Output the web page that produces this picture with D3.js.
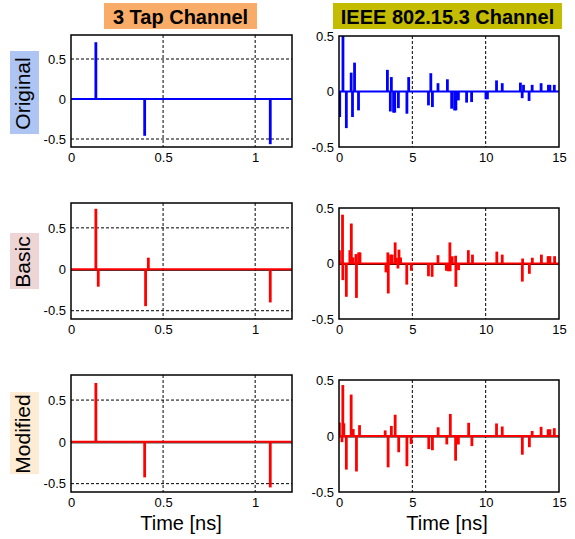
<!DOCTYPE html>
<html><head><meta charset="utf-8">
<script src="https://cdn.jsdelivr.net/npm/d3@7"></script>
<style>body{margin:0;background:#fff}svg{display:block}text{font-family:"Liberation Sans",Arial,sans-serif}</style>
</head><body><svg id="c" width="575" height="539"></svg>
<script>
// ---- data ----
const columnTitles = ["3 Tap Channel", "IEEE 802.15.3 Channel"];
const rowLabels = ["Original", "Basic", "Modified"];
const xLabel = "Time [ns]";
const tapXTicks = [0, 0.5, 1];
const ieeeXTicks = [0, 5, 10, 15];
const tapYTicks = [0.5, 0, -0.5];
const ieeeYTicks = [0.5, 0, -0.5];

const tapOrigT = [0.135, 0.400, 1.082];
const tapOrigV = [0.71, -0.46, -0.565];
const tapBasicT = [0.135, 0.148, 0.405, 0.420, 1.082];
const tapBasicV = [0.73, -0.21, -0.445, 0.14, -0.40];
const tapModT = [0.135, 0.400, 1.082];
const tapModV = [0.705, -0.425, -0.545];

const ieeeOrigT = [0.05,0.27,0.50,0.83,0.92,1.06,1.33,3.30,3.50,3.57,3.72,3.80,4.05,4.63,4.75,6.10,6.26,6.37,6.75,7.39,7.68,7.88,7.97,8.14,8.70,9.04,10.02,10.12,10.74,11.13,12.37,12.49,12.58,12.96,13.17,13.78,14.28,14.38,14.68];
const ieeeOrigV = [-0.23,0.50,-0.33,0.17,-0.23,0.26,-0.17,0.195,-0.18,0.13,-0.19,-0.19,-0.15,-0.20,0.13,-0.125,0.165,-0.14,0.075,0.11,-0.155,-0.17,-0.17,-0.08,-0.10,-0.095,-0.07,-0.07,0.10,0.075,0.08,-0.06,0.06,-0.085,0.06,0.075,0.06,0.06,0.06];

const ieeeBasicT = [0.03,0.24,0.26,0.50,0.74,0.84,0.96,1.16,1.19,1.34,1.43,3.20,3.33,3.36,3.52,3.62,3.83,3.92,4.02,4.09,4.20,4.62,4.93,6.10,6.35,6.75,7.32,7.44,7.56,7.58,7.72,7.95,7.97,8.15,8.82,9.10,10.76,11.13,12.50,12.52,12.98,13.18,13.80,14.26,14.38,14.70];
const ieeeBasicV = [0.12,0.44,-0.15,-0.30,0.12,0.36,0.055,0.085,-0.31,0.10,0.10,-0.08,0.10,-0.27,0.08,0.08,0.19,0.05,-0.045,0.125,0.054,-0.19,-0.065,-0.115,-0.12,0.075,-0.065,-0.07,0.19,-0.07,0.065,0.07,-0.21,-0.06,0.12,0.08,0.107,0.08,-0.163,0.045,-0.093,0.052,0.08,0.066,0.066,0.066];

const ieeeModT = [0.03,0.20,0.26,0.33,0.50,0.83,0.97,1.19,1.40,3.15,3.35,3.57,3.83,4.07,4.63,4.92,6.12,6.37,6.76,7.35,7.59,7.95,8.14,8.84,9.06,10.74,11.13,12.50,12.98,13.17,13.78,14.26,14.38,14.68];
const ieeeModV = [0.12,-0.055,0.455,0.113,-0.30,0.37,0.062,-0.317,0.097,0.05,-0.28,0.09,0.19,-0.145,-0.27,-0.072,-0.117,-0.127,0.078,-0.075,0.197,-0.22,-0.076,0.118,-0.09,0.112,0.085,-0.167,-0.10,0.045,0.082,0.06,0.06,0.07];

// ---- layout ----
const svg = d3.select("#c");
const leftX = [71, 292], rightX = [339, 559];
const leftRows = [[35,147],[203,319],[375,492]];
const rightRows = [[36,147],[208,319],[380,492]];
const rowColors = ["#0000ff", "#ff0000", "#ff0000"];
const labelBg = ["#aec4f2", "#eed5d5", "#fdebd4"];
const labelBox = [[51,134],[233,289],[392,474]];

const panels = [
  {col:0,row:0,t:tapOrigT,v:tapOrigV},
  {col:1,row:0,t:ieeeOrigT,v:ieeeOrigV},
  {col:0,row:1,t:tapBasicT,v:tapBasicV},
  {col:1,row:1,t:ieeeBasicT,v:ieeeBasicV},
  {col:0,row:2,t:tapModT,v:tapModV},
  {col:1,row:2,t:ieeeModT,v:ieeeModV}
];

const fmt = d => (d === 0 ? "0" : String(d));

panels.forEach((p, i) => {
  const xr = p.col === 0 ? leftX : rightX;
  const yr = p.col === 0 ? leftRows[p.row] : rightRows[p.row];
  const x = d3.scaleLinear().domain(p.col === 0 ? [0, 1.2] : [0, 15]).range(xr);
  const y = d3.scaleLinear().domain(p.col === 0 ? [-0.6, 0.8] : [-0.5, 0.5]).range([yr[1], yr[0]]);
  const g = svg.append("g");
  const cid = "clip" + i;
  g.append("clipPath").attr("id", cid).append("rect")
    .attr("x", xr[0]).attr("y", yr[0]).attr("width", xr[1]-xr[0]).attr("height", yr[1]-yr[0]);
  g.append("rect").attr("x", xr[0]).attr("y", yr[0]).attr("width", xr[1]-xr[0]).attr("height", yr[1]-yr[0]).attr("fill", "#fff");

  const xt = p.col === 0 ? tapXTicks : ieeeXTicks;
  const ytk = p.col === 0 ? tapYTicks : ieeeYTicks;
  // grid
  const grid = g.append("g").attr("stroke", "#000").attr("stroke-width", 1).attr("stroke-dasharray", "3,2");
  xt.filter(d => x(d) > xr[0] + 1 && x(d) < xr[1] - 1).forEach(d =>
    grid.append("line").attr("x1", x(d)).attr("x2", x(d)).attr("y1", yr[0]).attr("y2", yr[1]));
  ytk.filter(d => d !== 0 && y(d) > yr[0] + 1 && y(d) < yr[1] - 1).forEach(d =>
    grid.append("line").attr("y1", y(d)).attr("y2", y(d)).attr("x1", xr[0]).attr("x2", xr[1]));

  // baseline + stems
  const col = rowColors[p.row];
  const plot = g.append("g").attr("clip-path", `url(#${cid})`);
  if (p.row > 0) {
    plot.append("line").attr("x1", xr[0]).attr("x2", xr[1]).attr("y1", y(0)+1).attr("y2", y(0)+1)
      .attr("stroke", "#000").attr("stroke-width", 1);
  }
  plot.append("line").attr("x1", xr[0]).attr("x2", xr[1]).attr("y1", y(0)).attr("y2", y(0))
    .attr("stroke", col).attr("stroke-width", 2);
  plot.selectAll("line.stem").data(p.t.map((t, k) => ({t, v: p.v[k]}))).join("line")
    .attr("class", "stem")
    .attr("x1", d => x(d.t)).attr("x2", d => x(d.t))
    .attr("y1", y(0)).attr("y2", d => y(d.v))
    .attr("stroke", col).attr("stroke-width", 2.8);

  // frame
  g.append("rect").attr("x", xr[0]).attr("y", yr[0]).attr("width", xr[1]-xr[0]).attr("height", yr[1]-yr[0])
    .attr("fill", "none").attr("stroke", "#000").attr("stroke-width", 1.5);

  // axes
  const ax = g.append("g").attr("transform", `translate(0,${yr[1]})`)
    .call(d3.axisBottom(x).tickValues(xt).tickFormat(fmt).tickSize(0).tickPadding(6));
  const ay = g.append("g").attr("transform", `translate(${xr[0]},0)`)
    .call(d3.axisLeft(y).tickValues(ytk).tickFormat(fmt).tickSize(0).tickPadding(5));
  [ax, ay].forEach(a => {
    a.select(".domain").remove();
    a.selectAll("text").attr("font-size", 13).attr("fill", "#000").attr("font-family", "Liberation Sans, Arial, sans-serif");
  });
});

// column titles
const titleBoxes = [[104,257,"#f9ac68"],[333,562,"#c4bc00"]];
columnTitles.forEach((t, i) => {
  const b = titleBoxes[i];
  svg.append("rect").attr("x", b[0]).attr("y", 3).attr("width", b[1]-b[0]).attr("height", 26).attr("fill", b[2]);
  svg.append("text").attr("x", (b[0]+b[1])/2).attr("y", 24).attr("text-anchor", "middle")
    .attr("font-size", 20).attr("font-weight", "bold").attr("fill", "#000").text(t);
});

// row labels
rowLabels.forEach((t, i) => {
  const b = labelBox[i];
  svg.append("rect").attr("x", 10).attr("y", b[0]).attr("width", 29).attr("height", b[1]-b[0]).attr("fill", labelBg[i]);
  const cy = (b[0]+b[1])/2 + 1;
  svg.append("text").attr("transform", `translate(30,${cy}) rotate(-90)`).attr("text-anchor", "middle")
    .attr("font-size", 21).attr("fill", "#000").text(t);
});

// x labels
[[181],[447]].forEach(c => {
  svg.append("text").attr("x", c[0]).attr("y", 530).attr("text-anchor", "middle")
    .attr("font-size", 20).attr("fill", "#000").text(xLabel);
});
</script></body></html>
